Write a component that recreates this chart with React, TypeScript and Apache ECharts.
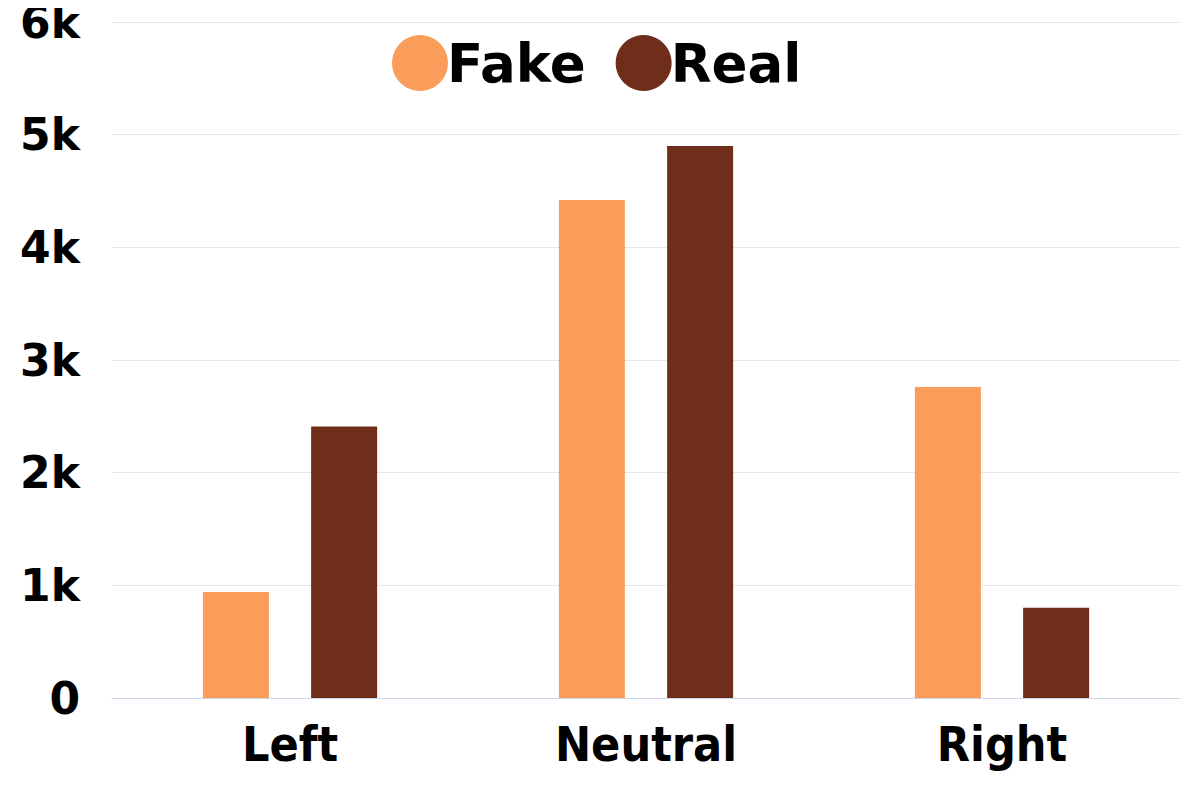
import React, { useEffect, useRef } from "react";
import * as echarts from "echarts";

const categories = ["Left", "Neutral", "Right"];
const fakeValues = [940, 4420, 2760];
const realValues = [2410, 4900, 800];
const seriesNames = ["Fake", "Real"];
const colors = ["#FB9D5A", "#6E2E19"];

export default function App() {
  const ref = useRef<HTMLDivElement>(null);
  useEffect(() => {
    if (!ref.current) return;
    const chart = echarts.init(ref.current, null, { renderer: "svg" });
    chart.setOption({
      animation: false,
      color: colors,
      legend: {
        left: 392,
        top: 35,
        icon: "circle",
        itemWidth: 56,
        itemHeight: 56,
        itemGap: 30,
        padding: 0,
        textStyle: {
          fontFamily: "DejaVu Sans",
          fontWeight: "bold",
          fontSize: 53,
          color: "#000",
          padding: [8, 0, 0, -6],
        },
        data: seriesNames,
      },
      grid: { left: 112, right: 20, top: 21, bottom: 102 },
      xAxis: {
        type: "category",
        data: categories,
        axisTick: { show: false },
        axisLine: { lineStyle: { color: "#ccd6eb", width: 1 } },
        axisLabel: {
          margin: 22,
          fontFamily: "DejaVu Sans Condensed",
          fontWeight: "bold",
          fontSize: 48,
          color: "#000",
        },
      },
      yAxis: {
        type: "value",
        min: 0,
        max: 6000,
        interval: 1000,
        axisLabel: {
          margin: 32,
          fontFamily: "DejaVu Sans",
          fontWeight: "bold",
          fontSize: 44,
          color: "#000",
          formatter: (v: number) => (v === 0 ? "0" : v / 1000 + "k"),
        },
        splitLine: { lineStyle: { color: "#e6e6e6", width: 1 } },
      },
      series: [
        { name: seriesNames[0], type: "bar", data: fakeValues, barWidth: 66, barGap: "64%" },
        { name: seriesNames[1], type: "bar", data: realValues, barWidth: 66, barGap: "64%" },
      ],
    });
    return () => chart.dispose();
  }, []);
  return <div ref={ref} style={{ width: 1200, height: 800, margin: -8 }} />;
}
